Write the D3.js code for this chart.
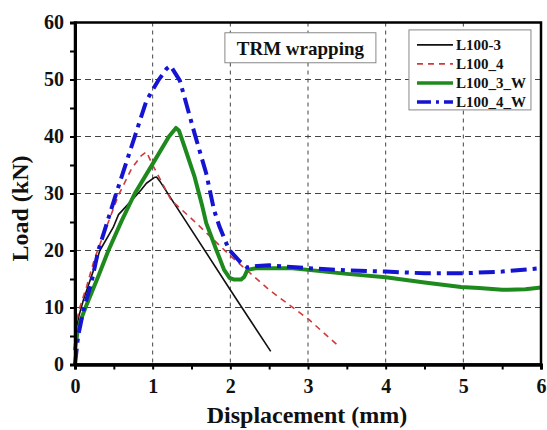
<!DOCTYPE html>
<html>
<head>
<meta charset="utf-8">
<script src="https://cdn.jsdelivr.net/npm/d3@7"></script>
<style>
  body { margin: 0; background: #fff; }
  text { font-family: "Liberation Serif", "Times New Roman", serif; font-weight: bold; }
</style>
</head>
<body>
<div id="chart"></div>
<script>
  // series names, tick values
  const seriesNames = ["L100-3", "L100_4", "L100_3_W", "L100_4_W"];
  const xTicks = [0, 1, 2, 3, 4, 5, 6];
  const yTicks = [0, 10, 20, 30, 40, 50, 60];

  // [displacement (mm), load (kN)]
  const l100_3 = [[0,5],[0.05,8.5],[0.11,11.4],[0.24,16.6],[0.32,20],[0.49,24],[0.56,26.3],[0.73,28.8],[0.85,30.6],[0.92,31.8],[1.02,32.8],[1.05,32.9],
    [1.1,32.0],[1.99,13.3],[2.52,2.3]];
  const l100_4 = [[0,6],[0.05,9.5],[0.15,13.7],[0.25,18.5],[0.36,22.5],[0.56,29.7],[0.73,34.4],[0.85,36.6],[0.92,37.3],[1.0,35.0],
    [1.24,28.8],[1.5,25.6],[1.99,19.2],[2.5,13.1],[3.01,7.9],[3.38,3.4]];
  const l100_3_w = [[0,2.5],[0.03,5.5],[0.08,8],[0.15,10.5],[0.3,15.5],[0.43,20],[0.6,25.2],[0.77,30],[1.0,35.2],[1.21,40],[1.3,41.5],
    [1.34,41],[1.41,38.2],[1.54,32.9],[1.64,27.7],[1.69,24.8],[1.82,20.1],[1.92,16.6],[1.99,15.2],[2.05,14.9],[2.14,14.9],[2.18,15.4],
    [2.22,16.6],[2.33,16.9],[2.5,16.9],[2.8,16.9],[3.0,16.6],[3.5,15.9],[4.0,15.3],[4.5,14.4],[4.97,13.6],[5.2,13.4],[5.5,13.1],[5.8,13.2],[6.0,13.5]];
  const l100_4_w = [[0,0],[0.02,2.5],[0.04,5],[0.11,9.6],[0.21,14.3],[0.3,20],[0.53,30],[0.77,40],[0.92,46.3],[1.07,49.8],[1.18,51.9],[1.23,52.4],
    [1.35,49.8],[1.54,40.5],[1.69,33.5],[1.79,27.1],[1.86,24.2],[1.98,20.2],[2.12,18.1],[2.22,17.0],[2.35,17.3],[2.5,17.4],[3.0,16.9],
    [3.5,16.5],[4.0,16.3],[4.5,16.0],[5.0,16.0],[5.5,16.3],[6.0,16.9]];

  const series = [
    { name: seriesNames[0], data: l100_3, color: "#111", width: 1.6, dash: null },
    { name: seriesNames[1], data: l100_4, color: "#d03a3a", width: 1.6, dash: "6,5" },
    { name: seriesNames[2], data: l100_3_w, color: "#1e8a1e", width: 4, dash: null },
    { name: seriesNames[3], data: l100_4_w, color: "#1414d2", width: 4, dash: "16,6,4,6" }
  ];

  const margin = { top: 22.5, right: 6, bottom: 65.5, left: 75 };
  const width = 547 - margin.left - margin.right;
  const height = 430 - margin.top - margin.bottom;

  const svg = d3.select("#chart").append("svg")
    .attr("width", 547)
    .attr("height", 430)
    .append("g")
    .attr("transform", `translate(${margin.left},${margin.top})`);

  const x = d3.scaleLinear().domain([0, 6]).range([0, width]);
  const y = d3.scaleLinear().domain([0, 60]).range([height, 0]);

  // dashed grid
  svg.append("g").selectAll("line")
    .data(xTicks.slice(1, -1))
    .enter().append("line")
    .attr("x1", d => x(d)).attr("x2", d => x(d))
    .attr("y1", 0).attr("y2", height)
    .attr("stroke", "#444").attr("stroke-width", 1)
    .attr("stroke-dasharray", "4,4");
  svg.append("g").selectAll("line")
    .data(yTicks.slice(1, -1))
    .enter().append("line")
    .attr("y1", d => y(d)).attr("y2", d => y(d))
    .attr("x1", 0).attr("x2", width)
    .attr("stroke", "#444").attr("stroke-width", 1)
    .attr("stroke-dasharray", "6,4");

  // curves
  const line = d3.line()
    .x(d => x(d[0]))
    .y(d => y(d[1]));

  series.forEach(s => {
    svg.append("path")
      .datum(s.data)
      .attr("fill", "none")
      .attr("stroke", s.color)
      .attr("stroke-width", s.width)
      .attr("stroke-dasharray", s.dash)
      .attr("stroke-linejoin", "round")
      .attr("d", line);
  });

  // frame
  svg.append("rect")
    .attr("width", width).attr("height", height)
    .attr("fill", "none").attr("stroke", "#000").attr("stroke-width", 2.5);

  // axes
  const xAxisGrp = svg.append("g")
    .attr("transform", `translate(0,${height})`)
    .call(d3.axisBottom(x).tickValues(d3.range(0, 6.01, 0.5)).tickSize(5).tickFormat(""));
  const xLabels = svg.append("g")
    .attr("transform", `translate(0,${height})`)
    .call(d3.axisBottom(x).tickValues(xTicks).tickSize(0).tickPadding(14).tickFormat(d3.format("d")));

  const yAxisGrp = svg.append("g")
    .call(d3.axisLeft(y).tickValues(d3.range(0, 60.1, 5)).tickSize(5).tickFormat(""));
  const yLabels = svg.append("g")
    .call(d3.axisLeft(y).tickValues(yTicks).tickSize(0).tickPadding(11).tickFormat(d3.format("d")));

  [xAxisGrp, yAxisGrp, xLabels, yLabels].forEach(g => {
    g.select(".domain").attr("stroke", "#000").attr("stroke-width", 3);
    g.selectAll(".tick line").attr("stroke", "#000").attr("stroke-width", 2);
    g.selectAll("text")
      .attr("fill", "#111")
      .style("font-family", "'Liberation Serif', serif")
      .style("font-weight", "bold")
      .style("font-size", "20px");
  });

  // axis titles
  svg.append("text")
    .attr("x", width / 2 - 1)
    .attr("y", height + 58)
    .attr("text-anchor", "middle")
    .style("font-size", "24px")
    .attr("fill", "#111")
    .text("Displacement (mm)");

  svg.append("text")
    .attr("transform", `translate(-47,${height / 2 + 15}) rotate(-90)`)
    .attr("text-anchor", "middle")
    .style("font-size", "24px")
    .attr("fill", "#111")
    .text("Load (kN)");

  // TRM wrapping label
  svg.append("rect")
    .attr("x", x(1.93)).attr("y", y(58.2))
    .attr("width", 151).attr("height", 30)
    .attr("fill", "#fff").attr("stroke", "#888").attr("stroke-width", 1);
  svg.append("text")
    .attr("x", x(1.93) + 75.5).attr("y", y(58.2) + 22)
    .attr("text-anchor", "middle")
    .style("font-size", "19px")
    .attr("fill", "#111")
    .text("TRM wrapping");

  // legend
  const legend = svg.append("g")
    .attr("transform", `translate(${x(4.3)},${y(58.7)})`);
  legend.append("rect")
    .attr("width", 122).attr("height", 80)
    .attr("fill", "#fff").attr("stroke", "#888").attr("stroke-width", 1);
  series.forEach((s, i) => {
    const ly = 15 + i * 19;
    legend.append("line")
      .attr("x1", 8).attr("x2", 44)
      .attr("y1", ly).attr("y2", ly)
      .attr("stroke", s.color)
      .attr("stroke-width", s.width === 4 ? 3.5 : 1.6)
      .attr("stroke-dasharray", s.dash ? (s.width === 4 ? "14,5,3,5" : "6,5") : null);
    legend.append("text")
      .attr("x", 47).attr("y", ly + 5)
      .style("font-size", "15px")
      .attr("fill", "#111")
      .text(s.name);
  });
</script>
</body>
</html>
